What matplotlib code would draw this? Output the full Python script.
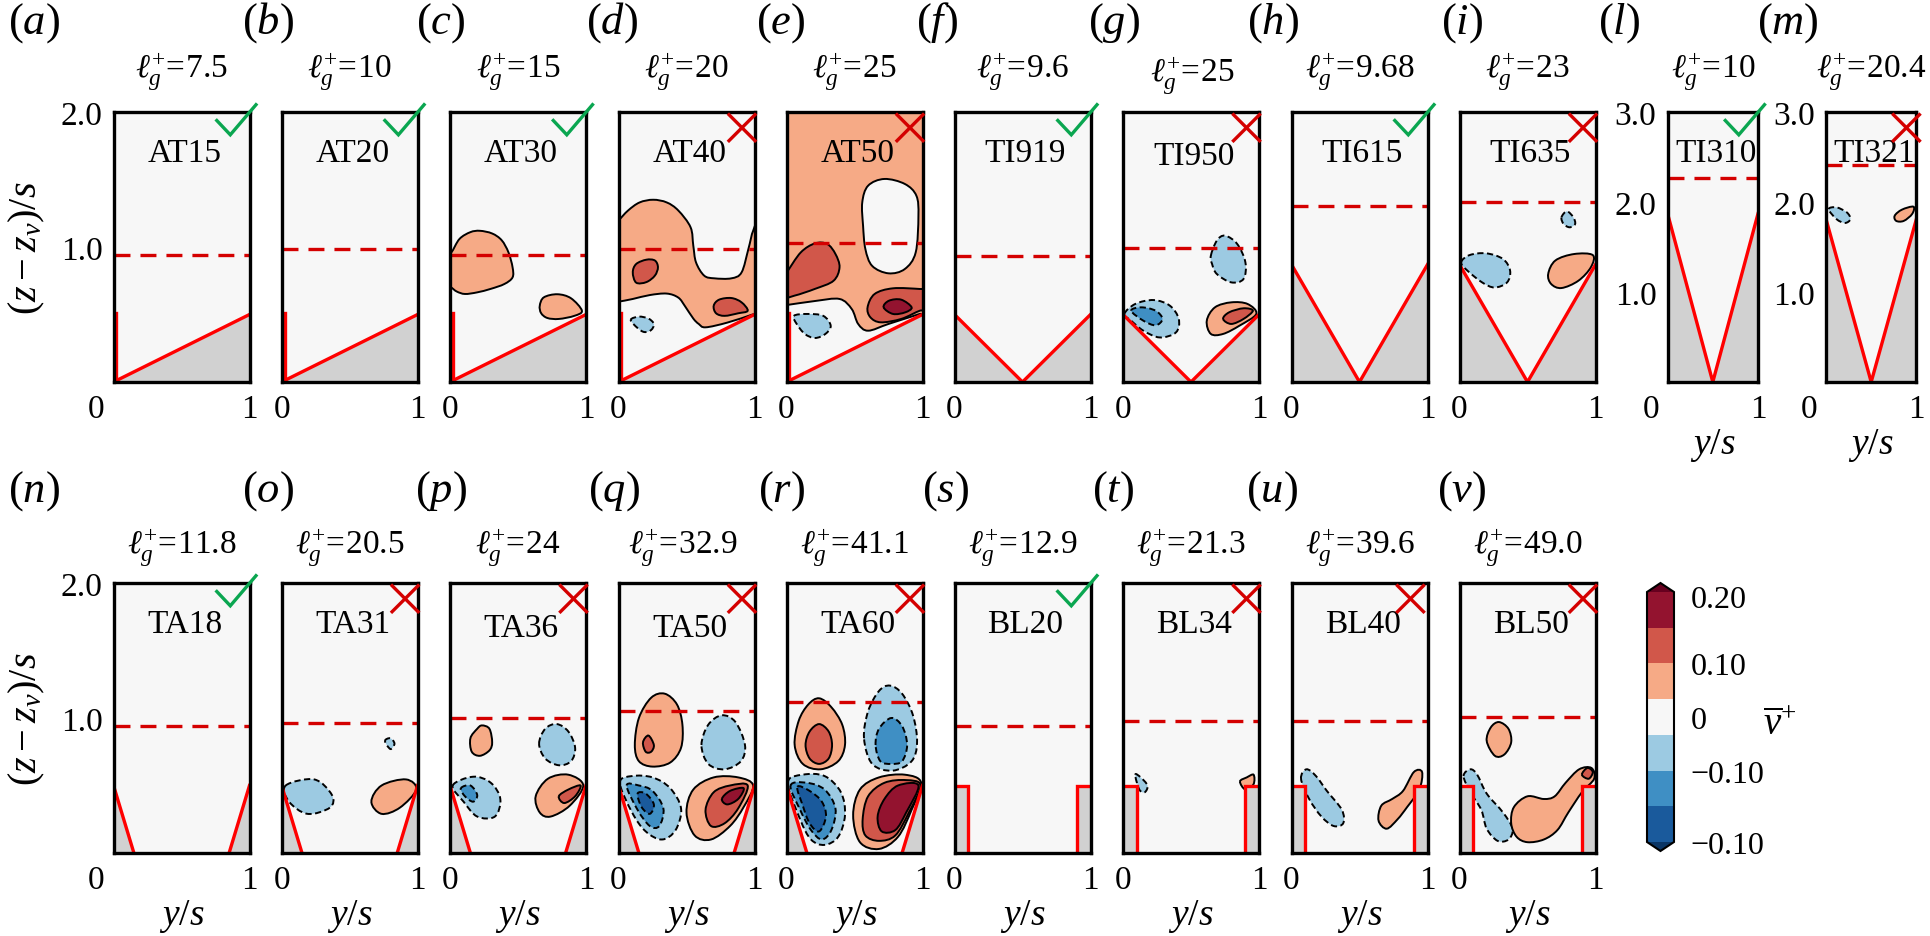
import matplotlib
matplotlib.use("Agg")
import matplotlib.pyplot as plt
from matplotlib.cm import ScalarMappable
from matplotlib.colors import BoundaryNorm, ListedColormap
from matplotlib.lines import Line2D
from matplotlib.patches import PathPatch
from matplotlib.path import Path
from matplotlib.transforms import ScaledTranslation

W, H = 1930, 937

plt.rcParams["font.family"] = ["Liberation Serif", "DejaVu Serif"]
plt.rcParams["mathtext.fontset"] = "custom"
plt.rcParams["mathtext.rm"] = "Liberation Serif"
plt.rcParams["mathtext.it"] = "Liberation Serif:italic"
plt.rcParams["mathtext.bf"] = "Liberation Serif:bold"
plt.rcParams["lines.scale_dashes"] = False

# panel tables, top row then bottom row
top_names = ["AT15", "AT20", "AT30", "AT40", "AT50", "TI919", "TI950", "TI615", "TI635", "TI310", "TI321"]
top_tags = ["a", "b", "c", "d", "e", "f", "g", "h", "i", "l", "m"]
top_ell = ["7.5", "10", "15", "20", "25", "9.6", "25", "9.68", "23", "10", "20.4"]
top_crest = [0.94, 0.987, 0.94, 0.987, 1.027, 0.933, 0.992, 1.306, 1.331, 2.27, 2.41]
top_ok = [True, True, True, False, False, True, False, True, False, True, False]
top_peak = [0.5, 0.5, 0.5, 0.5, 0.5, 0.5, 0.5, 0.87, 0.87, 1.87, 1.81]

bot_names = ["TA18", "TA31", "TA36", "TA50", "TA60", "BL20", "BL34", "BL40", "BL50"]
bot_tags = ["n", "o", "p", "q", "r", "s", "t", "u", "v"]
bot_ell = ["11.8", "20.5", "24", "32.9", "41.1", "12.9", "21.3", "39.6", "49.0"]
bot_crest = [0.943, 0.963, 1.0, 1.05, 1.118, 0.938, 0.978, 0.978, 1.007]
bot_ok = [True, False, False, False, False, True, False, False, False]

# contour outlines: (level, [(y/s, (z-zv)/s), ...]), drawn in order
AT30 = [
    (1, [(-0.02, 0.96), (0.01, 0.96), (0.07, 1.06), (0.15, 1.11), (0.22, 1.12), (0.31, 1.10), (0.38, 1.05), (0.43, 0.96),
         (0.46, 0.85), (0.46, 0.775), (0.40, 0.726), (0.30, 0.69), (0.20, 0.664), (0.11, 0.652), (0.05, 0.67), (0.01, 0.70), (-0.02, 0.72)]),
    (1, [(0.66, 0.565), (0.69, 0.627), (0.79, 0.65), (0.89, 0.62), (0.97, 0.528), (0.914, 0.49), (0.80, 0.467), (0.716, 0.474), (0.67, 0.51)]),
]
AT40 = [
    (1, [(-0.02, 1.17), (0.0, 1.195), (0.07, 1.27), (0.155, 1.33), (0.255, 1.35), (0.355, 1.33), (0.44, 1.27), (0.53, 1.146), (0.55, 1.01),
         (0.57, 0.886), (0.63, 0.788), (0.705, 0.768), (0.83, 0.768), (0.905, 0.812), (0.955, 0.985), (0.99, 1.12), (1.03, 1.15),
         (1.03, 0.52), (0.985, 0.50), (0.80, 0.44), (0.64, 0.405), (0.59, 0.43), (0.55, 0.47), (0.49, 0.56), (0.44, 0.625), (0.355, 0.655),
         (0.23, 0.644), (0.105, 0.615), (0.0, 0.595), (-0.02, 0.595)]),
    (2, [(0.105, 0.812), (0.13, 0.874), (0.205, 0.906), (0.2675, 0.90), (0.29, 0.85), (0.2675, 0.788), (0.205, 0.74), (0.13, 0.736)]),
    (2, [(0.70, 0.565), (0.74, 0.61), (0.83, 0.622), (0.905, 0.59), (0.95, 0.528), (0.88, 0.509), (0.78, 0.49), (0.7175, 0.509)]),
    (-1, [(0.09, 0.46), (0.15, 0.484), (0.22, 0.47), (0.26, 0.43), (0.24, 0.385), (0.19, 0.37), (0.14, 0.40)]),
]
AT50 = [
    (1, [(-0.03, 2.03), (0.5, 2.03), (1.03, 2.03), (1.03, 0.52), (0.98, 0.504), (0.75, 0.43), (0.60, 0.38), (0.527, 0.43), (0.48, 0.54),
         (0.39, 0.615), (0.21, 0.60), (0.0, 0.57), (-0.03, 0.57), (-0.03, 1.3)]),
    (0, [(0.557, 1.33), (0.60, 1.454), (0.72, 1.504), (0.87, 1.467), (0.955, 1.38), (0.97, 1.23), (0.95, 0.96), (0.87, 0.837), (0.75, 0.805),
         (0.63, 0.86), (0.58, 0.985), (0.563, 1.158)]),
    (2, [(-0.03, 0.78), (0.0, 0.81), (0.105, 0.96), (0.21, 1.027), (0.30, 1.022), (0.36, 0.948), (0.39, 0.85), (0.346, 0.75), (0.21, 0.69),
         (0.06, 0.64), (-0.03, 0.63)]),
    (2, [(0.596, 0.553), (0.648, 0.652), (0.783, 0.694), (0.98, 0.689), (1.03, 0.68), (1.03, 0.53), (0.98, 0.528), (0.843, 0.467), (0.693, 0.442), (0.617, 0.479)]),
    (3, [(0.714, 0.553), (0.753, 0.602), (0.843, 0.61), (0.92, 0.553), (0.873, 0.516), (0.783, 0.504)]),
    (-1, [(0.054, 0.49), (0.15, 0.504), (0.27, 0.49), (0.325, 0.417), (0.286, 0.356), (0.21, 0.326), (0.135, 0.356), (0.075, 0.43)]),
]
TI950 = [
    (-1, [(0.646, 0.936), (0.69, 1.047), (0.75, 1.084), (0.84, 1.022), (0.90, 0.886), (0.886, 0.763), (0.796, 0.738), (0.69, 0.80), (0.655, 0.874)]),
    (-1, [(0.01, 0.504), (0.09, 0.578), (0.225, 0.607), (0.345, 0.565), (0.41, 0.467), (0.39, 0.368), (0.27, 0.33), (0.15, 0.38), (0.06, 0.454)]),
    (-2, [(0.06, 0.528), (0.135, 0.553), (0.24, 0.528), (0.29, 0.467), (0.24, 0.42), (0.15, 0.454)]),
    (1, [(0.616, 0.454), (0.676, 0.553), (0.796, 0.59), (0.916, 0.578), (0.98, 0.504), (0.856, 0.417), (0.736, 0.356), (0.646, 0.356)]),
    (2, [(0.736, 0.467), (0.78, 0.516), (0.886, 0.546), (0.955, 0.528), (0.886, 0.467), (0.796, 0.43)]),
]
TI635 = [
    (-1, [(0.75, 1.22), (0.79, 1.264), (0.837, 1.22), (0.85, 1.17), (0.81, 1.146), (0.766, 1.17)]),
    (-1, [(0.012, 0.886), (0.074, 0.94), (0.197, 0.953), (0.32, 0.911), (0.372, 0.825), (0.35, 0.738), (0.258, 0.70), (0.166, 0.738), (0.058, 0.825)]),
    (1, [(0.652, 0.80), (0.705, 0.90), (0.843, 0.948), (0.98, 0.94), (0.966, 0.85), (0.874, 0.75), (0.75, 0.696), (0.674, 0.726)]),
]
TI321 = [
    (-1, [(0.03, 1.92), (0.116, 1.94), (0.23, 1.885), (0.27, 1.81), (0.21, 1.767), (0.116, 1.81)]),
    (1, [(0.76, 1.848), (0.84, 1.915), (0.967, 1.948), (0.953, 1.867), (0.86, 1.79), (0.777, 1.79)]),
]
TA31 = [
    (-1, [(0.76, 0.83), (0.80, 0.85), (0.83, 0.81), (0.80, 0.77)]),
    (-1, [(0.03, 0.50), (0.24, 0.545), (0.37, 0.43), (0.355, 0.336), (0.19, 0.29), (0.055, 0.38)]),
    (1, [(0.66, 0.38), (0.735, 0.50), (0.915, 0.545), (0.99, 0.47), (0.87, 0.336), (0.735, 0.29)]),
]
TA36 = [
    (1, [(0.15, 0.85), (0.20, 0.92), (0.235, 0.945), (0.29, 0.92), (0.31, 0.82), (0.29, 0.76), (0.22, 0.72), (0.16, 0.75)]),
    (-1, [(0.655, 0.81), (0.70, 0.92), (0.785, 0.955), (0.87, 0.90), (0.92, 0.78), (0.89, 0.68), (0.80, 0.65), (0.70, 0.70)]),
    (-1, [(0.02, 0.50), (0.17, 0.565), (0.30, 0.52), (0.37, 0.40), (0.33, 0.27), (0.20, 0.27), (0.10, 0.38)]),
    (-2, [(0.08, 0.48), (0.15, 0.50), (0.20, 0.43), (0.17, 0.38), (0.11, 0.42)]),
    (1, [(0.63, 0.42), (0.72, 0.55), (0.87, 0.58), (0.98, 0.50), (0.88, 0.35), (0.74, 0.27), (0.66, 0.30)]),
    (2, [(0.80, 0.42), (0.87, 0.47), (0.96, 0.50), (0.92, 0.42), (0.84, 0.37)]),
]
TA50 = [
    (1, [(0.12, 0.80), (0.15, 1.0), (0.24, 1.15), (0.34, 1.18), (0.43, 1.10), (0.47, 0.95), (0.46, 0.78), (0.38, 0.67), (0.25, 0.64), (0.15, 0.68)]),
    (2, [(0.18, 0.82), (0.22, 0.87), (0.26, 0.80), (0.24, 0.75), (0.20, 0.75)]),
    (-1, [(0.61, 0.80), (0.66, 0.95), (0.76, 1.02), (0.86, 0.97), (0.93, 0.80), (0.90, 0.68), (0.78, 0.62), (0.66, 0.66)]),
    (-1, [(0.01, 0.52), (0.10, 0.57), (0.25, 0.56), (0.38, 0.48), (0.46, 0.33), (0.42, 0.17), (0.32, 0.10), (0.20, 0.16), (0.10, 0.30)]),
    (-2, [(0.06, 0.50), (0.15, 0.50), (0.25, 0.46), (0.33, 0.33), (0.30, 0.20), (0.23, 0.20), (0.14, 0.32)]),
    (-3, [(0.14, 0.44), (0.20, 0.44), (0.26, 0.36), (0.23, 0.29), (0.17, 0.34)]),
    (1, [(0.50, 0.30), (0.55, 0.47), (0.70, 0.56), (0.88, 0.56), (0.99, 0.50), (0.92, 0.34), (0.82, 0.20), (0.68, 0.10), (0.56, 0.13)]),
    (2, [(0.64, 0.32), (0.70, 0.45), (0.82, 0.50), (0.95, 0.50), (0.88, 0.33), (0.78, 0.22), (0.68, 0.20)]),
    (3, [(0.76, 0.40), (0.82, 0.46), (0.92, 0.48), (0.88, 0.40), (0.80, 0.36)]),
]
TA60 = [
    (1, [(0.06, 0.80), (0.09, 0.98), (0.16, 1.10), (0.24, 1.146), (0.33, 1.08), (0.41, 0.95), (0.43, 0.80), (0.38, 0.68), (0.25, 0.62), (0.12, 0.66)]),
    (2, [(0.14, 0.80), (0.17, 0.90), (0.24, 0.955), (0.31, 0.90), (0.335, 0.80), (0.31, 0.70), (0.24, 0.66), (0.17, 0.70)]),
    (-1, [(0.57, 0.85), (0.60, 1.05), (0.68, 1.20), (0.76, 1.24), (0.85, 1.18), (0.93, 1.02), (0.96, 0.82), (0.92, 0.68), (0.78, 0.61), (0.63, 0.66)]),
    (-2, [(0.655, 0.80), (0.68, 0.92), (0.77, 1.0), (0.85, 0.94), (0.887, 0.80), (0.85, 0.68), (0.77, 0.66), (0.69, 0.68)]),
    (-1, [(0.01, 0.52), (0.12, 0.58), (0.28, 0.57), (0.40, 0.45), (0.43, 0.28), (0.38, 0.12), (0.28, 0.06), (0.18, 0.10), (0.10, 0.25)]),
    (-2, [(0.03, 0.50), (0.15, 0.52), (0.28, 0.47), (0.36, 0.33), (0.33, 0.17), (0.26, 0.10), (0.18, 0.17), (0.10, 0.32)]),
    (-3, [(0.08, 0.49), (0.17, 0.46), (0.26, 0.38), (0.29, 0.27), (0.24, 0.16), (0.17, 0.22), (0.12, 0.35)]),
    (1, [(0.49, 0.28), (0.54, 0.47), (0.68, 0.56), (0.87, 0.58), (0.99, 0.52), (0.92, 0.32), (0.82, 0.12), (0.68, 0.03), (0.54, 0.08)]),
    (2, [(0.56, 0.25), (0.60, 0.42), (0.72, 0.52), (0.88, 0.54), (0.985, 0.50), (0.90, 0.30), (0.80, 0.13), (0.68, 0.09), (0.58, 0.13)]),
    (3, [(0.67, 0.27), (0.72, 0.40), (0.82, 0.50), (0.97, 0.50), (0.88, 0.30), (0.80, 0.17), (0.70, 0.16)]),
]
BL34 = [
    (-1, [(0.09, 0.58), (0.13, 0.56), (0.18, 0.50), (0.16, 0.45), (0.12, 0.47)]),
    (1, [(0.86, 0.53), (0.91, 0.56), (0.96, 0.58), (0.96, 0.51), (0.90, 0.47)]),
]
BL40 = [
    (-1, [(0.07, 0.55), (0.11, 0.62), (0.18, 0.57), (0.26, 0.46), (0.37, 0.32), (0.38, 0.22), (0.31, 0.20), (0.22, 0.27), (0.13, 0.40)]),
    (1, [(0.64, 0.24), (0.66, 0.35), (0.74, 0.40), (0.82, 0.46), (0.90, 0.60), (0.96, 0.60), (0.94, 0.47), (0.85, 0.34), (0.78, 0.25), (0.70, 0.18)]),
]
BL50 = [
    (1, [(0.20, 0.83), (0.23, 0.93), (0.29, 0.97), (0.36, 0.92), (0.38, 0.82), (0.33, 0.73), (0.26, 0.72)]),
    (-1, [(0.03, 0.57), (0.08, 0.62), (0.13, 0.58), (0.20, 0.44), (0.32, 0.30), (0.39, 0.18), (0.36, 0.10), (0.28, 0.09), (0.20, 0.18), (0.16, 0.32), (0.08, 0.45)]),
    (1, [(0.38, 0.22), (0.40, 0.34), (0.50, 0.42), (0.62, 0.40), (0.70, 0.42), (0.78, 0.52), (0.88, 0.62), (0.97, 0.63), (0.99, 0.55), (0.90, 0.45), (0.80, 0.30), (0.72, 0.17), (0.62, 0.10), (0.50, 0.08), (0.42, 0.12)]),
    (2, [(0.90, 0.58), (0.94, 0.63), (0.98, 0.60), (0.95, 0.55)]),
]
contours = {"AT30": AT30, "AT40": AT40, "AT50": AT50, "TI950": TI950, "TI635": TI635, "TI321": TI321, "TA31": TA31,
            "TA36": TA36, "TA50": TA50, "TA60": TA60, "BL34": BL34, "BL40": BL40, "BL50": BL50}

level_colors = {-3: "#1a5a9c", -2: "#3f8fc4", -1: "#9ccae2", 0: "#f7f7f7", 1: "#f6aa86", 2: "#d1574a", 3: "#93132f"}
cbar_colors = ["#1a5a9c", "#3f8fc4", "#9ccae2", "#f7f7f7", "#f6aa86", "#d1574a", "#93132f"]
cbar_ticks = [0, 2, 3.5, 5, 6.9]
cbar_labels = ["\u22120.10", "\u22120.10", "0", "0.10", "0.20"]

# panel positions in reference pixels
LEFTS = [113.5, 281.6, 450, 618.5, 786.5, 954.5, 1123, 1291.5, 1459.5]
TOP_EXTRA = [(1667.6, 90.4), (1826, 90.4)]
PW, PH = 136, 270
TOP_Y, BOT_Y = 113, 584

NAME_Y = {"TI950": 0.808, "TA36": 0.805, "TA50": 0.805}
CROSS_SHIFT = {"BL40": -4.5, "TI321": 2.5}
SHIFTED_ZERO = ["AT15", "TA18", "TI310", "TI321"]
TITLE_SHIFT = {"TI950": (1, 4), "TA50": (-4, 0)}
TAG_X_TOP = [8, 242, 416, 586, 755.5, 916, 1088, 1247, 1441, 1598, 1757]
TAG_X_BOT = [8, 242, 415, 588, 758, 922, 1092, 1246, 1437]

RED, DRED, GREEN, GREY = "#ff0000", "#d40000", "#0aa650", "#d1d1d1"


def fx(x):
    return x / W


def fy(y):
    return 1 - y / H


def smooth_closed(pts):
    # closed Catmull-Rom through the read outline, as bezier segments
    n = len(pts)
    verts = [pts[0]]
    codes = [Path.MOVETO]
    for i in range(n):
        p0, p1, p2, p3 = pts[i - 1], pts[i], pts[(i + 1) % n], pts[(i + 2) % n]
        c1 = (p1[0] + (p2[0] - p0[0]) / 6, p1[1] + (p2[1] - p0[1]) / 6)
        c2 = (p2[0] - (p3[0] - p1[0]) / 6, p2[1] - (p3[1] - p1[1]) / 6)
        verts += [c1, c2, p2]
        codes += [Path.CURVE4] * 3
    return Path(verts, codes)


def floor_lines(name, peak):
    if name.startswith("AT"):
        return [[(0.0, 0.0), (1.0, peak)], [(0.022, 0.0), (0.022, 0.51)]], [(0, 0), (1, 0), (1, peak)]
    if name.startswith("TI"):
        return [[(0.0, peak), (0.5, 0.0), (1.0, peak)]], [(0, 0), (1, 0), (1, peak), (0.5, 0), (0, peak)]
    if name.startswith("TA"):
        return [[(0.0, 0.5), (0.15, 0.0)], [(0.85, 0.0), (1.0, 0.5)]], [(0, 0), (1, 0), (1, 0.5), (0.85, 0), (0.15, 0), (0, 0.5)]
    return [[(0.0, 0.5), (0.1, 0.5), (0.1, 0.0)], [(0.9, 0.0), (0.9, 0.5), (1.0, 0.5)]], [(0, 0), (1, 0), (1, 0.5), (0.9, 0.5), (0.9, 0), (0.1, 0), (0.1, 0.5), (0, 0.5)]


def draw_panel(fig, name, left, width, top, ymax, crest, ok, peak, ell, title_base, yticks, xlabel):
    ax = fig.add_axes([fx(left), fy(top + PH), width / W, PH / H])
    ax.set_xlim(0, 1)
    ax.set_ylim(0, ymax)
    ax.set_facecolor("#f7f7f7")
    for s in ax.spines.values():
        s.set_linewidth(2.4)
        s.set_zorder(6)

    lines, floor = floor_lines(name, peak)
    for lev, pts in contours.get(name, []):
        ax.add_patch(PathPatch(smooth_closed(pts), facecolor=level_colors[lev], edgecolor="black", lw=1.4,
                               linestyle=(0, (4.5, 2.5)) if lev < 0 else "-", zorder=2))
    ax.fill([p[0] for p in floor], [p[1] for p in floor], color=GREY, lw=0, zorder=3)
    for ln in lines:
        ax.plot([p[0] for p in ln], [p[1] for p in ln], color=RED, lw=2.4, zorder=4, solid_joinstyle="miter")
    ax.plot([0, 1], [crest, crest], color=DRED, lw=2.4, linestyle=(0, (11.5, 7.2)), dash_capstyle="butt", zorder=5)

    ax.set_xticks([0, 1])
    ax.set_xticklabels(["0", "1"], fontsize=24)
    ax.set_yticks(yticks)
    ax.set_yticklabels([f"{v:.1f}" for v in yticks], fontsize=24)
    ax.tick_params(length=0, pad=8)
    if name in SHIFTED_ZERO:
        lab = ax.get_xticklabels()[0]
        lab.set_transform(lab.get_transform() + ScaledTranslation(-17 / 100, 0, fig.dpi_scale_trans))

    right = left + width
    ax.text(0.5 + 3 / width, NAME_Y.get(name, 0.82), name, transform=ax.transAxes, ha="center", va="baseline", fontsize=24, zorder=7)

    dx, dy = TITLE_SHIFT.get(name, (0, 0))
    fig.text(fx(left + width / 2 + dx), fy(title_base + dy), rf"$\ell_g^{{+}}\!=\!{ell}$", ha="center", va="baseline", fontsize=24)

    if ok:
        fig.add_artist(Line2D([fx(right - 32.7), fx(right - 19.2), fx(right + 6.5)], [fy(top + 8.5), fy(top + 22.8), fy(top - 7.3)],
                              color=GREEN, lw=2.4, solid_joinstyle="miter", zorder=8))
    else:
        sh = CROSS_SHIFT.get(name, 0)
        for y0, y1 in [(2.7, 28.7), (28.7, 2.7)]:
            fig.add_artist(Line2D([fx(right - 25.5 + sh), fx(right + 0.5 + sh)], [fy(top + y0), fy(top + y1)], color=DRED, lw=2.4, zorder=8))

    if xlabel:
        fig.text(fx(left + width / 2), fy(top + PH + 63), r"$y/s$", ha="center", va="center", fontsize=27)


fig = plt.figure(figsize=(W / 100, H / 100), dpi=100, facecolor="white")

for i, name in enumerate(top_names):
    left, width = (LEFTS[i], PW) if i < 9 else TOP_EXTRA[i - 9]
    ymax = 2 if i < 9 else 3
    if i in (0, 9, 10):
        yticks = [1.0, 2.0] if i == 0 else [1.0, 2.0, 3.0]
    else:
        yticks = []
    draw_panel(fig, name, left, width, TOP_Y, ymax, top_crest[i], top_ok[i], top_peak[i], top_ell[i], 78, yticks, i >= 9)
    fig.text(fx(TAG_X_TOP[i]), fy(23), rf"(${top_tags[i]}$)", ha="left", va="center", fontsize=32)

for i, name in enumerate(bot_names):
    draw_panel(fig, name, LEFTS[i], PW, BOT_Y, 2, bot_crest[i], bot_ok[i], 0.5, bot_ell[i], 554, [1.0, 2.0] if i == 0 else [], True)
    fig.text(fx(TAG_X_BOT[i]), fy(491.5), rf"(${bot_tags[i]}$)", ha="left", va="center", fontsize=32)

for yc in (248, 719):
    fig.text(fx(27), fy(yc), r"$(z-z_v)/s$", rotation=90, ha="center", va="center", fontsize=29)

# colour bar, the axes holds the body and both tips
cax = fig.add_axes([fx(1647), fy(852), 27 / W, 268 / H])
cmap = ListedColormap(cbar_colors)
cmap.set_under("#0a3565")
cmap.set_over("#67001f")
sm = ScalarMappable(norm=BoundaryNorm(list(range(8)), 7), cmap=cmap)
cb = fig.colorbar(sm, cax=cax, extend="both", extendfrac=0.036, spacing="uniform", drawedges=False)
cb.set_ticks(cbar_ticks)
cb.set_ticklabels(cbar_labels)
cb.ax.tick_params(length=0, labelsize=23, pad=12)
cb.ax.minorticks_off()
cb.outline.set_linewidth(1.5)
fig.text(fx(1780), fy(726), r"$\overline{v}^{+}$", ha="center", va="center", fontsize=28)

fig.savefig("out.png", dpi=100)
